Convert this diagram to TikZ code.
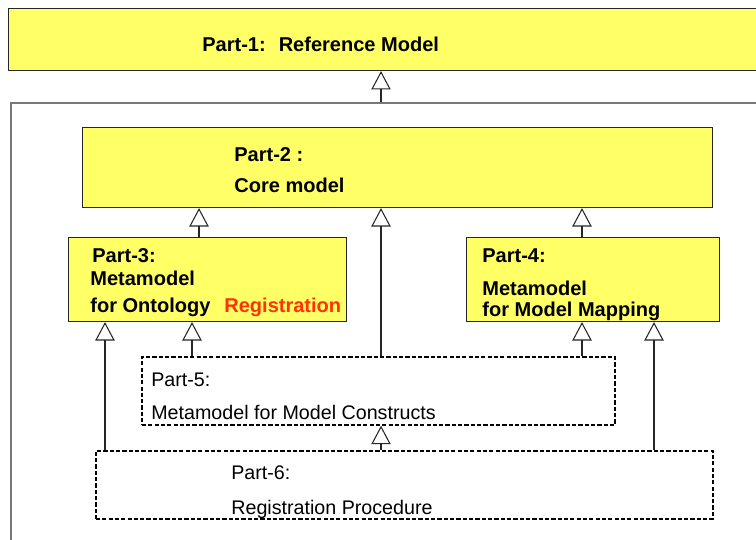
\documentclass[tikz,border=0pt]{standalone}
\usepackage{fontspec}
\setmainfont{Liberation Sans}
\usetikzlibrary{arrows.meta,positioning}
\definecolor{partyellow}{RGB}{255,255,102}
\definecolor{regred}{RGB}{255,51,0}
\definecolor{framegray}{RGB}{120,120,120}

\begin{document}
\begin{tikzpicture}[x=0.02cm,y=-0.02cm,
  boxsize/.style 2 args={minimum width=#1*0.02cm,minimum height=#2*0.02cm},
  part/.style={draw=black!85,fill=partyellow,line width=0.6pt,inner sep=0,anchor=north west},
  subpart/.style={draw=black,dash pattern=on 2.4pt off 1.2pt,line width=1pt,inner sep=0,anchor=north west},
  frame/.style={draw=framegray,line width=1.1pt,inner sep=0,anchor=north west},
  txt/.style={anchor=base west,inner sep=0,font=\fontsize{11.2}{13}\selectfont},
  btxt/.style={txt,font=\fontsize{11.4}{13}\selectfont\bfseries},
  isa/.style={-{Triangle[open,fill=white,length=10.5pt,width=11pt]},line width=0.6pt,black!85}]
  \useasboundingbox (0,0) rectangle (756,540);
  \clip (0,0) rectangle (756,540);

  % boxes
  \node[part,boxsize={780}{62}] (Part1) at (8,8) {};
  \node[frame,boxsize={780}{470}] (Frame) at (10,102) {};
  \node[part,boxsize={630}{80}] (Core) at (82,127) {};
  \node[part,boxsize={278}{84}] (Part3) at (68,237) {};
  \node[part,boxsize={253}{84}] (Part4) at (466,237) {};
  \node[subpart,boxsize={473}{68}] (Part5) at (141,356) {};
  \node[subpart,boxsize={617}{68}] (Part6) at (95,450) {};

  % texts
  \node[btxt] (Part1Title) at (202,52) {Part-1:~ Reference Model};
  \node[btxt] (CoreA) at (234,161.5) {Part-2 :};
  \node[btxt] (CoreB) at (234,193) {Core model};
  \node[btxt] (OntoA) at (92,262.5) {Part-3:};
  \node[btxt] (OntoB) at (90,285) {Metamodel};
  \node[btxt] (OntoC) at (90,312.5) {for Ontology};
  \node[btxt,regred] (OntoD) at (224,312.5) {Registration};
  \node[btxt] (MapA) at (482,262.5) {Part-4:};
  \node[btxt] (MapB) at (482,295.5) {Metamodel};
  \node[btxt] (MapC) at (482,316.5) {for Model Mapping};
  \node[txt] (ConsA) at (151,386) {Part-5:};
  \node[txt] (ConsB) at (151,419) {Metamodel for Model Constructs};
  \node[txt] (ProcA) at (231,479.5) {Part-6:};
  \node[txt] (ProcB) at (231,514) {Registration Procedure};

  % columns of the connectors
  \coordinate (colA) at (105,0);
  \coordinate (colB) at (192,0);
  \coordinate (colC) at (199,0);
  \coordinate (colD) at (381,0);
  \coordinate (colE) at (582,0);
  \coordinate (colF) at (654,0);

  % connectors
  \draw[isa] (Frame.north -| colD) -- (Part1.south -| colD);
  \draw[isa] (Part3.north -| colC) -- (Core.south -| colC);
  \draw[isa] (Part5.north -| colD) -- (Core.south -| colD);
  \draw[isa] (Part4.north -| colE) -- (Core.south -| colE);
  \draw[isa] (Part6.north -| colA) -- (Part3.south -| colA);
  \draw[isa] (Part5.north -| colB) -- (Part3.south -| colB);
  \draw[isa] (Part5.north -| colE) -- (Part4.south -| colE);
  \draw[isa] (Part6.north -| colF) -- (Part4.south -| colF);
  \draw[isa] (Part6.north -| colD) -- (Part5.south -| colD);
\end{tikzpicture}
\end{document}
